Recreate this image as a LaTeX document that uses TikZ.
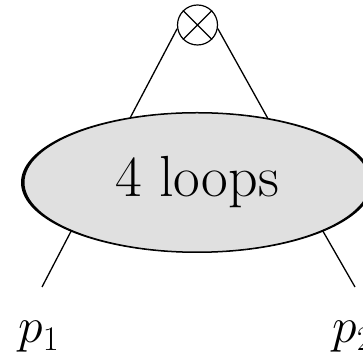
\documentclass[tikz,border=0pt]{standalone}
\usetikzlibrary{shapes.geometric,positioning}
\definecolor{LoopGray}{RGB}{224,224,224}
\begin{document}
\begin{tikzpicture}[x=0.5pt,y=-0.5pt,
  blob/.style={ellipse,draw,line width=0.5pt,fill=LoopGray,
               minimum width=173pt,minimum height=69.5pt,inner sep=0pt,
               font=\fontsize{29}{34}\selectfont},
  vertex/.style={circle,draw,line width=0.6pt,minimum size=20pt,inner sep=0pt},
  leg/.style={line width=0.65pt},
  ext/.style={font=\fontsize{25}{30}\selectfont,inner sep=0pt},
]
\useasboundingbox (0,0) rectangle (363,356);
% outline shadow behind the loop blob
\fill (197,182.5) ellipse [x radius=176,y radius=70.5];
\node[blob] (loops) at (197,182.5) {4 loops};
\node[vertex] (vx) at (197.5,25) {};
\draw[line width=0.6pt] (vx.45) -- (vx.225) (vx.135) -- (vx.315);
\node[ext] (p1) at (39,337) {$p_1$};
\node[ext] (p2) at (353,337) {$p_2$};
\coordinate (end1) at (42,287);
\coordinate (end2) at (355,287);
\draw[leg] (vx.190) -- (loops.136);
\draw[leg] (vx.350) -- (loops.42);
\draw[leg] (loops.201) -- (end1);
\draw[leg] (loops.339) -- (end2);
\end{tikzpicture}
\end{document}
